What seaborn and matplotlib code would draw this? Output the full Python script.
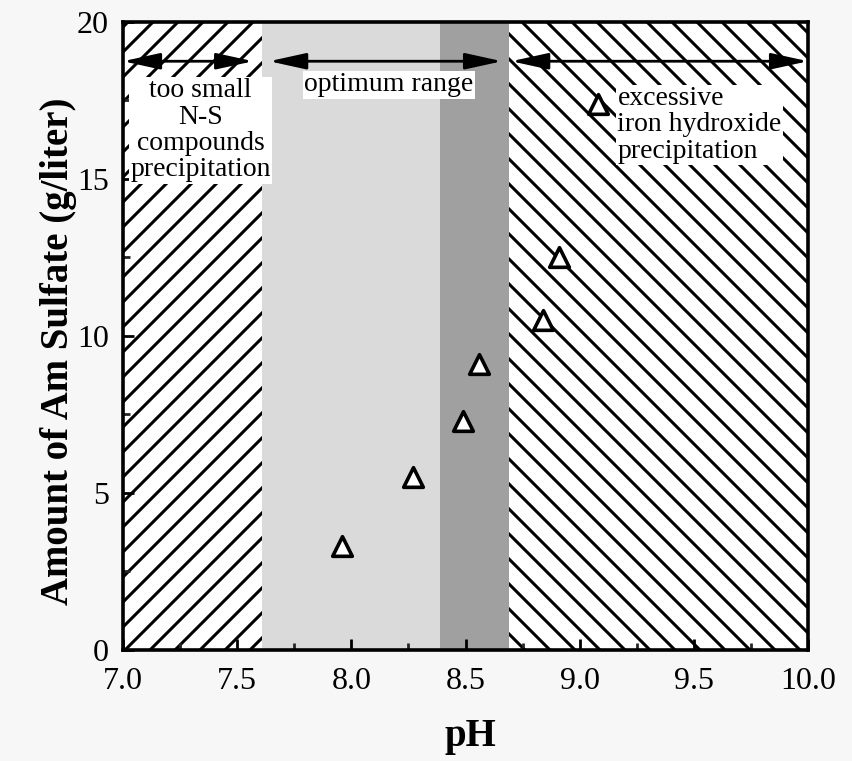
import numpy as np
import pandas as pd
import matplotlib
matplotlib.use("Agg")
import matplotlib.pyplot as plt
import matplotlib.hatch as mhatch
import seaborn as sns
from matplotlib.ticker import MultipleLocator

# ---- data ----
ph_values = [7.96, 8.27, 8.49, 8.56, 8.84, 8.91, 9.08]
sulfate_values = [3.3, 5.5, 7.3, 9.1, 10.5, 12.5, 17.4]

region_edges = [7.0, 7.61, 8.39, 8.69, 10.0]   # left hatch | light | dark | right hatch
arrow_starts = [7.0, 7.64, 8.70]
arrow_ends = [7.57, 8.66, 10.0]
arrow_level = 18.75

label_texts = ["too small\nN-S\ncompounds\nprecipitation",
               "optimum range",
               "excessive\niron hydroxide\nprecipitation"]
label_x = [7.34, 8.165, 9.165]
label_y = [16.55, 18.0, 16.72]

x_ticks = [7.0, 7.5, 8.0, 8.5, 9.0, 9.5, 10.0]
y_ticks = [0, 5, 10, 15, 20]

# ---- denser hatching (8 lines per hatch unit instead of 6) ----
_ne_init = mhatch.NorthEastHatch.__init__
_se_init = mhatch.SouthEastHatch.__init__
def _ne(self, hatch, density):
    _ne_init(self, hatch, density)
    self.num_lines = int(round(self.num_lines * 4 / 3))
    self.num_vertices = (self.num_lines + 1) * 2 if self.num_lines else 0
def _se(self, hatch, density):
    _se_init(self, hatch, density)
    self.num_lines = int(round(self.num_lines * 4 / 3))
    self.num_vertices = (self.num_lines + 1) * 2 if self.num_lines else 0
mhatch.NorthEastHatch.__init__ = _ne
mhatch.SouthEastHatch.__init__ = _se

sns.set_theme(style="white")
plt.rcParams['font.family'] = ['Liberation Serif', 'DejaVu Serif']
plt.rcParams['hatch.linewidth'] = 2.2
plt.rcParams['hatch.color'] = 'black'

fig = plt.figure(figsize=(8.53, 7.61), dpi=100, facecolor='#f7f7f7')
ax = fig.add_axes([0.1442, 0.1459, 0.9473 - 0.1442, 0.9711 - 0.1459])
ax.set_facecolor('white')

# background regions
ax.axvspan(region_edges[0], region_edges[1], facecolor='white', edgecolor='black',
           hatch='/', linewidth=0, zorder=0)
ax.axvspan(region_edges[1], region_edges[2], facecolor='#dadada', linewidth=0, zorder=0)
ax.axvspan(region_edges[2], region_edges[3], facecolor='#a0a0a0', linewidth=0, zorder=0)
ax.axvspan(region_edges[3], region_edges[4], facecolor='white', edgecolor='black',
           hatch='\\', linewidth=0, zorder=0)

# arrows
for xs, xe in zip(arrow_starts, arrow_ends):
    ax.annotate('', xy=(xe, arrow_level), xytext=(xs, arrow_level),
                arrowprops=dict(arrowstyle='<|-|>,head_length=1.5,head_width=0.33',
                                color='black', lw=2.0, mutation_scale=15,
                                shrinkA=0, shrinkB=0), zorder=3)

# labels
bbox = dict(facecolor='white', edgecolor='none', pad=1.0)
ax.text(label_x[0], label_y[0], label_texts[0], ha='center', va='center',
        fontsize=20, linespacing=1.07, bbox=bbox, zorder=4, color='black')
ax.text(label_x[1], label_y[1], label_texts[1], ha='center', va='center',
        fontsize=20, bbox=bbox, zorder=4, color='black')
ax.text(label_x[2], label_y[2], label_texts[2], ha='left', va='center',
        fontsize=20, linespacing=1.07, bbox=bbox, zorder=4, color='black')

# data points
df = pd.DataFrame({'pH': ph_values, 'sulfate': sulfate_values})
sns.scatterplot(data=df, x='pH', y='sulfate', marker='^', s=200,
                facecolor='white', edgecolor='black', linewidth=2.6, ax=ax, zorder=5)

ax.set_xlim(7.0, 10.0)
ax.set_ylim(0, 20)
ax.set_xticks(x_ticks)
ax.set_xticklabels([f"{t:.1f}" for t in x_ticks])
ax.set_yticks(y_ticks)
ax.xaxis.set_minor_locator(MultipleLocator(0.25))
ax.yaxis.set_minor_locator(MultipleLocator(2.5))
ax.tick_params(which='major', direction='in', length=8, width=2, labelsize=23,
               bottom=True, left=True, top=False, right=False, colors='black')
ax.tick_params(axis='x', which='major', pad=12)
ax.tick_params(axis='y', which='major', pad=10)
ax.tick_params(which='minor', direction='in', length=5, width=2,
               bottom=True, left=True, top=False, right=False)
for s in ax.spines.values():
    s.set_linewidth(2.6)
    s.set_color('black')

ax.set_xlabel('pH', fontsize=28, fontweight='bold', color='black')
ax.set_ylabel('Amount of Am Sulfate (g/liter)', fontsize=28, fontweight='bold', color='black')
ax.xaxis.set_label_coords(0.507, -0.108)
ax.yaxis.set_label_coords(-0.067, 0.475)

fig.savefig('out.png', dpi=100, facecolor=fig.get_facecolor())
